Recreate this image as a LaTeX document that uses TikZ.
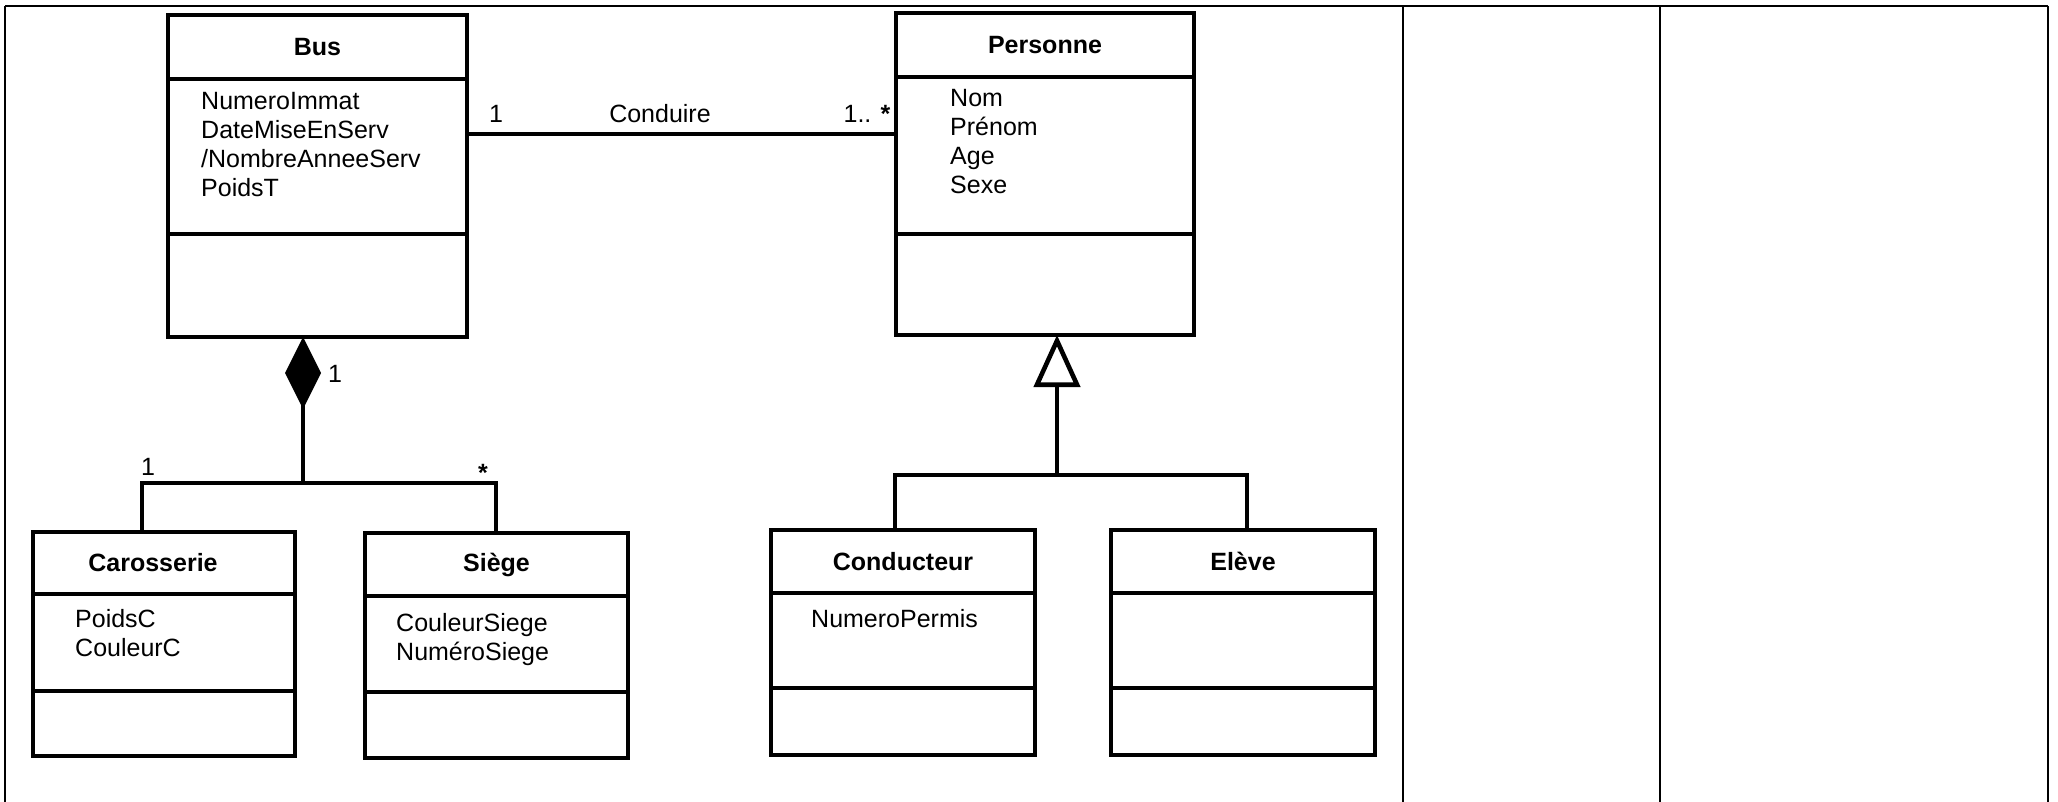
\documentclass[tikz,border=0pt]{standalone}
\usepackage{fontspec}
\setmainfont{Liberation Sans}
\usetikzlibrary{positioning,arrows.meta}

\begin{document}
\begin{tikzpicture}[x=1pt,y=-1pt]
\useasboundingbox (0,0) rectangle (2058,802);

% 1. Koordinaten
\coordinate (tab1) at (5,6);
\coordinate (tab2) at (1403,6);
\coordinate (tab3) at (1660,6);
\coordinate (tab4) at (2048,6);

\coordinate (conduire) at (660,134);
\coordinate (cJ) at (303,483);
\coordinate (cL) at (142,483);
\coordinate (cR) at (496,483);
\coordinate (gJ) at (1057,475);
\coordinate (gL) at (895,475);
\coordinate (gR) at (1247,475);

% 2. Stile
\tikzset{
  part/.style={draw, line width=4.6pt, anchor=north west,
    inner sep=0pt, outer sep=0pt},
  classname/.style={font=\fontsize{25}{29}\selectfont\bfseries},
  classattr/.style={font=\fontsize{25}{29}\selectfont, align=left,
    anchor=north west, inner sep=0pt},
  mult/.style={font=\fontsize{25}{29}\selectfont, anchor=base, inner sep=0pt},
  link/.style={line width=4.6pt, line join=miter},
  compo/.style={link, -{Diamond[length=72pt, width=36pt]}},
  gener/.style={link, -{Triangle[open, fill=white, length=52pt, width=46pt]}},
  grid line/.style={line width=2.7pt}
}

% 3. Tabelle
\draw [grid line] (tab1) -- (tab4);
\draw [grid line] (tab1) -- (tab1 |- 0,802);
\draw [grid line] (tab2) -- (tab2 |- 0,802);
\draw [grid line] (tab3) -- (tab3 |- 0,802);
\draw [grid line] (tab4) -- (tab4 |- 0,802);

% 4. Klassen
\node [part, classname, minimum width=299pt, minimum height=64pt] (busT) at (168,15) {Bus};
\node [part, minimum width=299pt, minimum height=155pt] (busA) at (busT.south west) {};
\node [part, minimum width=299pt, minimum height=103pt] (busM) at (busA.south west) {};
\node [classattr] (busAttr) at (201,92) {NumeroImmat\\DateMiseEnServ\\/NombreAnneeServ\\PoidsT};

\node [part, classname, minimum width=298pt, minimum height=64pt] (persT) at (896,13) {Personne};
\node [part, minimum width=298pt, minimum height=157pt] (persA) at (persT.south west) {};
\node [part, minimum width=298pt, minimum height=101pt] (persM) at (persA.south west) {};
\node [classattr] (persAttr) at (950,89) {Nom\\Prénom\\Age\\Sexe};

\node [part, classname, minimum width=262pt, minimum height=62pt] (carT) at (33,532) {Carosserie\hspace*{22pt}};
\node [part, minimum width=262pt, minimum height=97pt] (carA) at (carT.south west) {};
\node [part, minimum width=262pt, minimum height=65pt] (carM) at (carA.south west) {};
\node [classattr] (carAttr) at (75,609) {PoidsC\\CouleurC};

\node [part, classname, minimum width=263pt, minimum height=63pt] (siegeT) at (365,533) {Siège};
\node [part, minimum width=263pt, minimum height=96pt] (siegeA) at (siegeT.south west) {};
\node [part, minimum width=263pt, minimum height=66pt] (siegeM) at (siegeA.south west) {};
\node [classattr] (siegeAttr) at (396,613) {CouleurSiege\\NuméroSiege};

\node [part, classname, minimum width=264pt, minimum height=63pt] (condT) at (771,530) {Conducteur};
\node [part, minimum width=264pt, minimum height=95pt] (condA) at (condT.south west) {};
\node [part, minimum width=264pt, minimum height=67pt] (condM) at (condA.south west) {};
\node [classattr] (condAttr) at (811,609) {NumeroPermis};

\node [part, classname, minimum width=264pt, minimum height=63pt] (eleveT) at (1111,530) {Elève};
\node [part, minimum width=264pt, minimum height=95pt] (eleveA) at (eleveT.south west) {};
\node [part, minimum width=264pt, minimum height=67pt] (eleveM) at (eleveA.south west) {};

% 5. Beziehungen
\draw [link] (busA.east |- conduire) -- (persA.west |- conduire);
\node [mult] (mBus) at (496,123) {1};
\node [mult] (assocName) at (660,123) {Conduire};
\node [mult] (mPers) at (867,123) {1.. \textbf{*}};

\draw [compo] (cJ) -- (cJ |- busM.south);
\draw [link] (cL |- carT.north) -- (cL) -- (cR) -- (cR |- siegeT.north);
\node [mult] (mComp) at (335,382) {1};
\node [mult] (mCar) at (148,475) {1};
\node [mult] (mSiege) at (483,481) {\textbf{*}};

\draw [gener] (gJ) -- (gJ |- persM.south);
\draw [link] (gL |- condT.north) -- (gL) -- (gR) -- (gR |- eleveT.north);

\end{tikzpicture}
\end{document}
